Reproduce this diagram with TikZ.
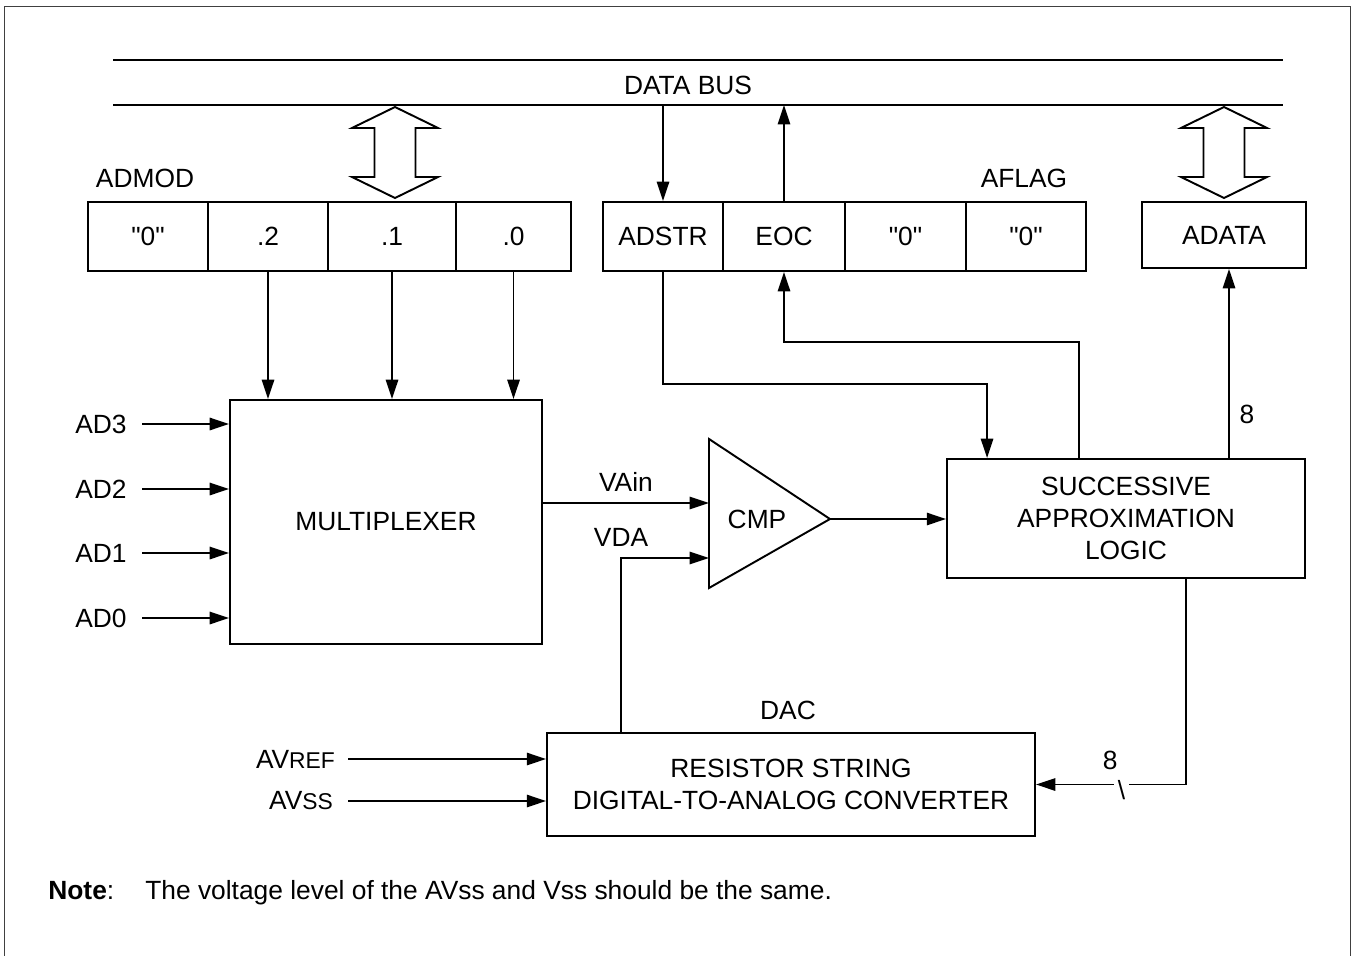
\documentclass[tikz,border=0pt]{standalone}
\usepackage{fontspec}
\setmainfont{Liberation Sans}
\usetikzlibrary{arrows.meta}
\tikzset{
  cell/.style={draw, line width=1.1pt, minimum height=1.38cm, inner sep=0pt},
  blk/.style={draw, line width=1.1pt, align=center, inner sep=0pt},
  sig/.style={-{Triangle[length=11pt,width=7pt]}, line width=1.1pt},
  wire/.style={line width=1.1pt},
  lbl/.style={inner sep=1pt},
  busarrow/.pic={
    \draw[line width=1.1pt] (0,0) -- (43,21) -- (20.5,21) -- (20.5,70) -- (43,70)
      -- (0,91) -- (-43,70) -- (-20.5,70) -- (-20.5,21) -- (-43,21) -- cycle;
  },
}
\newcommand{\zero}{\textquotedbl 0\textquotedbl}
\begin{document}
\begin{tikzpicture}[x=0.02cm, y=-0.02cm, font=\fontsize{15}{18}\selectfont]
  \useasboundingbox (0,0) rectangle (1352,956);

  % Frame
  \draw[line width=1.1pt, black!75] (4.5,960) -- (4.5,6.5) -- (1350.5,6.5) -- (1350.5,960);

  % Data bus
  \coordinate (busA1) at (113,60);  \coordinate (busA2) at (1283,60);
  \coordinate (busB1) at (113,105); \coordinate (busB2) at (1283,105);
  \draw[wire] (busA1) -- (busA2);
  \draw[wire] (busB1) -- (busB2);
  \node (bus) at (688,85) {DATA BUS};

  % ADMOD register
  \node (admod) at (145,178) {ADMOD};
  \node[cell, minimum width=2.4cm]  (m3) at (148,236.5)   {\zero};
  \node[cell, minimum width=2.4cm]  (m2) at (268,236.5)   {.2};
  \node[cell, minimum width=2.56cm] (m1) at (392,236.5)   {.1};
  \node[cell, minimum width=2.3cm]  (m0) at (513.5,236.5) {.0};

  % AFLAG register
  \node (aflag) at (1024,178) {AFLAG};
  \node[cell, minimum width=2.4cm]  (f3) at (663,236.5)   {ADSTR};
  \node[cell, minimum width=2.44cm] (f2) at (784,236.5)   {EOC};
  \node[cell, minimum width=2.42cm] (f1) at (905.5,236.5) {\zero};
  \node[cell, minimum width=2.4cm]  (f0) at (1026,236.5)  {\zero};

  % ADATA register
  \node[cell, minimum width=3.28cm, minimum height=1.32cm] (adata) at (1224,235) {ADATA};

  % Bus transfers
  \pic at (395,107) {busarrow};
  \pic at (1224,107) {busarrow};
  \draw[sig] (f3.north |- busB1) -- (f3.north);
  \draw[sig] (f2.north) -- (f2.north |- busB1);

  % Blocks
  \node[blk, minimum width=6.24cm, minimum height=4.88cm] (mux) at (386,522) {MULTIPLEXER};
  \node[blk, minimum width=7.16cm, minimum height=2.38cm] (sal) at (1126,518.5)
    {SUCCESSIVE\\APPROXIMATION\\LOGIC};
  \node[blk, minimum width=9.76cm, minimum height=2.06cm] (dac) at (791,784.5)
    {RESISTOR STRING\\DIGITAL-TO-ANALOG CONVERTER};
  \node (daclbl) at (788,710) {DAC};

  % Comparator
  \draw[wire] (709,439) -- (830,519) -- (709,588) -- cycle;
  \node (cmp) at (757,519) {CMP};
  \coordinate (cmpP) at (709,503);
  \coordinate (cmpN) at (709,558);
  \coordinate (cmpO) at (830,519);

  % Analog inputs
  \foreach \ch/\y in {3/424, 2/489, 1/553, 0/618} {
    \node[inner sep=0pt] (ad\ch) at (101,\y) {AD\ch};
    \draw[sig] ([xshift=0.31cm]ad\ch.east) -- (ad\ch -| mux.west);
  }

  % Channel select
  \foreach \b in {m2, m1, m0}
    \draw[sig] (\b.south) -- (\b.south |- mux.north);

  % Analog path
  \draw[sig] (mux.east |- cmpP) -- node[lbl, above=5pt] {VAin} (cmpP);
  \draw[sig] ([xshift=1.5cm]dac.north west) |- node[lbl, above=5pt] {VDA} (cmpN);
  \draw[sig] (cmpO) -- (cmpO -| sal.west);

  % Control
  \draw[sig] (f3.south) -- ++(0,112) -| ([xshift=0.82cm]sal.north west);
  \draw[sig] ([xshift=2.66cm]sal.north west) -- ++(0,-116) -| (f2.south);
  \coordinate (salD) at ([xshift=5.66cm]sal.north west);
  \draw[sig] (salD) -- node[lbl, pos=0.23, right=4.5pt] {8} (salD |- adata.south);

  % DAC feedback
  \coordinate (salE) at ([xshift=4.8cm]sal.south west);
  \draw[sig] (salE) |- node[lbl, pos=0.753, above=7pt] {8}
    node[pos=0.715, fill=white, inner sep=0pt, minimum width=0.3cm, yshift=-3pt] {\textbackslash} (dac.east);

  % References
  \node[lbl, anchor=east] (avref) at (337,759) {AV{\fontsize{13}{15}\selectfont REF}};
  \node[lbl, anchor=east] (avss) at (335,801) {AV{\fontsize{13}{15}\selectfont SS}};
  \draw[sig] ([xshift=0.22cm]avref.east) -- (avref -| dac.west);
  \draw[sig] ([xshift=0.26cm]avss.east) -- (avss -| dac.west);

  % Note
  \node[anchor=base west, inner sep=0pt] (note) at (48,899) {{\bfseries Note}:};
  \node[anchor=base west, inner sep=0pt] (notetext) at (145,899)
    {The voltage level of the AVss and Vss should be the same.};
\end{tikzpicture}
\end{document}
